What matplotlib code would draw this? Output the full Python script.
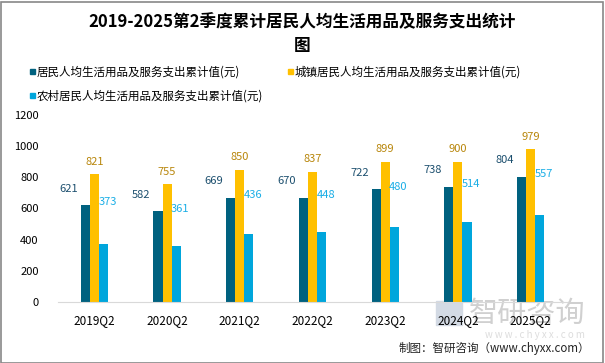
import matplotlib.pyplot as plt
from matplotlib.patches import Rectangle
import numpy as np

plt.rcParams['font.family'] = ['Noto Sans CJK SC', 'DejaVu Sans']

# --- data ---
quarters = ['2019Q2', '2020Q2', '2021Q2', '2022Q2', '2023Q2', '2024Q2', '2025Q2']
all_vals = [621, 582, 669, 670, 722, 738, 804]
urban_vals = [821, 755, 850, 837, 899, 900, 979]
rural_vals = [373, 361, 436, 448, 480, 514, 557]
series_names = ['居民人均生活用品及服务支出累计值(元)',
                '城镇居民人均生活用品及服务支出累计值(元)',
                '农村居民人均生活用品及服务支出累计值(元)']
y_ticks = [0, 200, 400, 600, 800, 1000, 1200]

c_dark, c_gold, c_light = '#00617f', '#ffc000', '#00a6dc'
lbl_dark, lbl_gold, lbl_light = '#1c4f6e', '#b8860b', '#1aaee6'

W, H = 605, 363
fig = plt.figure(figsize=(W / 100, H / 100), dpi=100)
ax = fig.add_axes([58 / W, 1 - 302 / H, 509 / W, 187 / H])
ax.set_facecolor('none')

x = np.arange(len(quarters))
bw = 0.125
ax.bar(x - bw, all_vals, bw, color=c_dark)
ax.bar(x, urban_vals, bw, color=c_gold)
ax.bar(x + bw, rural_vals, bw, color=c_light)

# value labels (placed like the original, offsets in points)
for i in range(len(x)):
    ax.annotate(str(all_vals[i]), (x[i] - bw, all_vals[i]), xytext=(-12, 12),
                textcoords='offset points', ha='center', va='center',
                fontsize=8, color=lbl_dark)
    ax.annotate(str(urban_vals[i]), (x[i], urban_vals[i]), xytext=(0, 9),
                textcoords='offset points', ha='center', va='center',
                fontsize=8, color=lbl_gold)
    ax.annotate(str(rural_vals[i]), (x[i] + bw, all_vals[i]), xytext=(3, 2),
                textcoords='offset points', ha='center', va='center',
                fontsize=8, color=lbl_light)

ax.set_xlim(-0.5, len(x) - 0.5)
ax.set_ylim(0, 1200)
ax.set_yticks(y_ticks)
ax.set_xticks(x)
ax.set_xticklabels(quarters, fontsize=8.5)
ax.tick_params(axis='y', labelsize=8, length=0, pad=14)
ax.tick_params(axis='x', length=0, pad=9)
for s in ['top', 'right', 'left']:
    ax.spines[s].set_visible(False)
ax.spines['bottom'].set_color('#d9d9d9')

# title
fig.text(0.5, 1 - 22 / H, '2019-2025第2季度累计居民人均生活用品及服务支出统计',
         ha='center', va='center', fontsize=12, fontweight='bold')
fig.text(0.5, 1 - 46 / H, '图', ha='center', va='center', fontsize=12, fontweight='bold')

# legend
leg_pos = [(30, 72), (288, 72), (30, 96)]
for (lx, ly), name, col in zip(leg_pos, series_names, [c_dark, c_gold, c_light]):
    fig.patches.append(Rectangle((lx / W, 1 - (ly + 2) / H), 5 / W, 5 / H,
                                 transform=fig.transFigure, color=col))
    fig.text((lx + 7) / W, 1 - ly / H, name, ha='left', va='center', fontsize=8.3)

# watermark (behind the axes)
fig.text(585 / W, 1 - 314 / H, '智研咨询', ha='right', va='center', fontsize=21,
         color='#d0d0d0', zorder=-2)
fig.text(585 / W, 1 - 335 / H, 'w w w . c h y x x . c o m', ha='right', va='center',
         fontsize=7, color='#dddddd', zorder=-2)
fig.patches.append(Rectangle((436 / W, 1 - 325 / H), 26 / W, 24 / H,
                             transform=fig.transFigure, color='#d3dae4', zorder=-2))

# source
fig.text(590 / W, 1 - 348 / H, '制图：智研咨询（www.chyxx.com）', ha='right', va='center',
         fontsize=8.3, color='#222222')

# frame
fig.patches.append(Rectangle((0.5 / W, 0.5 / H), (W - 3) / W, (H - 2) / H,
                             transform=fig.transFigure, fill=False,
                             edgecolor='#888888', linewidth=1.2))

fig.savefig('out.png', dpi=100)
